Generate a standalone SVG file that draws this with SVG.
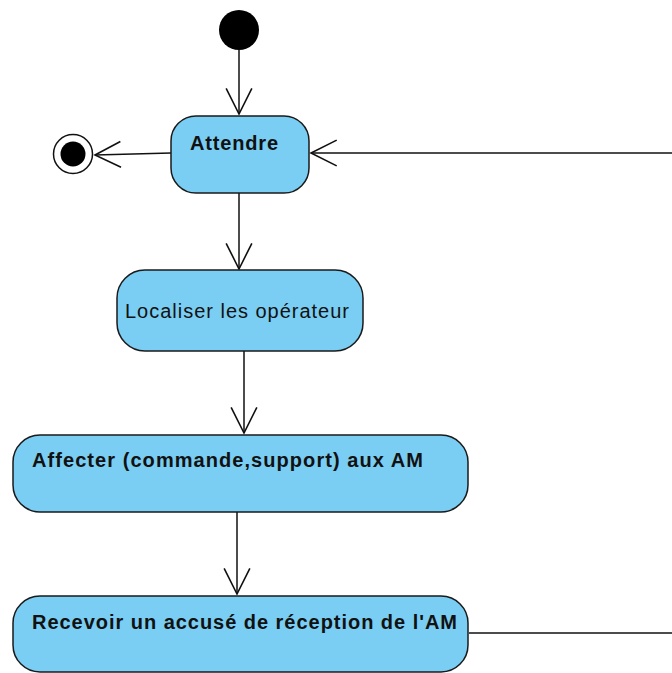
<svg xmlns="http://www.w3.org/2000/svg" width="672" height="673" viewBox="0 0 672 673">
<style>
.act{fill:#7acef3;stroke:#1a1a1a;stroke-width:1.5}
.lbl{font-family:"Liberation Sans",Arial,sans-serif;font-size:20px;fill:#111}
.b{font-weight:bold}
.edge{fill:none;stroke:#111;stroke-width:1.5}
</style>
<defs>
<marker id="open" markerUnits="userSpaceOnUse" markerWidth="30" markerHeight="30" viewBox="-26 -14 28 28" refX="0" refY="0" orient="auto">
<path d="M-24,-12 L0,0 L-24,12" fill="none" stroke="#111" stroke-width="1.5"/>
</marker>
</defs>
<rect width="672" height="673" fill="#fff"/>
<g id="connectors">
<line class="edge" x1="239" y1="50" x2="239" y2="114" marker-end="url(#open)"/>
<line class="edge" x1="171" y1="153" x2="95" y2="155" marker-end="url(#open)"/>
<line class="edge" x1="239" y1="193" x2="239" y2="269" marker-end="url(#open)"/>
<line class="edge" x1="244" y1="351" x2="244" y2="433" marker-end="url(#open)"/>
<line class="edge" x1="237" y1="512" x2="237" y2="594" marker-end="url(#open)"/>
<line class="edge" x1="672" y1="153" x2="311" y2="153" marker-end="url(#open)"/>
<line class="edge" x1="469" y1="633" x2="672" y2="633"/>
</g>
<g id="initial">
<circle cx="239" cy="30" r="20" fill="#000"/>
</g>
<g id="final">
<circle cx="73" cy="154" r="19.5" fill="#fff" stroke="#111" stroke-width="1.5"/>
<circle cx="73" cy="154" r="12.5" fill="#000"/>
</g>
<g id="attendre">
<rect class="act" x="171" y="116" width="138" height="77" rx="25" ry="25"/>
<text class="lbl b" x="190" y="150" textLength="88" lengthAdjust="spacing">Attendre</text>
</g>
<g id="localiser">
<rect class="act" x="117" y="270" width="246" height="81" rx="28" ry="28"/>
<text class="lbl" x="125" y="318" textLength="224" lengthAdjust="spacing">Localiser les opérateur</text>
</g>
<g id="affecter">
<rect class="act" x="13" y="435" width="455" height="77" rx="27" ry="27"/>
<text class="lbl b" x="32" y="467" textLength="391" lengthAdjust="spacing">Affecter (commande,support) aux AM</text>
</g>
<g id="recevoir">
<rect class="act" x="13" y="596" width="455" height="76" rx="27" ry="27"/>
<text class="lbl b" x="32" y="629" textLength="425" lengthAdjust="spacing">Recevoir un accusé de réception de l'AM</text>
</g>
</svg>
